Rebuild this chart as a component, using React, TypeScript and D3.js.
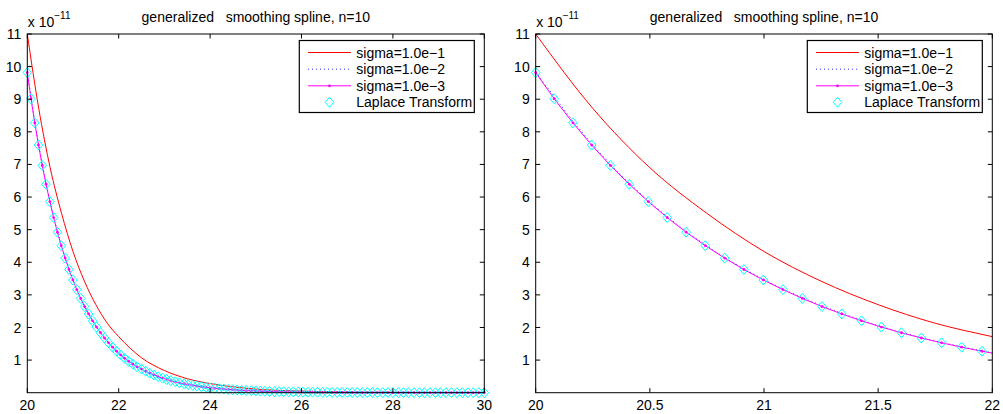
import React from 'react';
import * as d3 from 'd3';

// Laplace transform sample points (s) and values (x 1e-11)
const laplaceS = [
  20.000, 20.081, 20.163, 20.245, 20.327, 20.410, 20.493, 20.576, 20.659, 20.743,
  20.828, 20.912, 20.997, 21.083, 21.168, 21.254, 21.341, 21.427, 21.514, 21.602,
  21.689, 21.778, 21.866, 21.955, 22.044,
  22.13, 22.22, 22.31, 22.40, 22.50, 22.59, 22.68, 22.77, 22.86, 22.96,
  23.05, 23.14, 23.24, 23.33, 23.43, 23.52, 23.62, 23.71, 23.81, 23.91,
  24.00, 24.10, 24.20, 24.30, 24.40, 24.49, 24.59, 24.69, 24.79, 24.90,
  25.00, 25.10, 25.20, 25.30, 25.41, 25.51, 25.61, 25.72, 25.82, 25.93,
  26.03, 26.14, 26.24, 26.35, 26.46, 26.56, 26.67, 26.78, 26.89, 27.00,
  27.11, 27.22, 27.33, 27.44, 27.55, 27.66, 27.78, 27.89, 28.00, 28.12,
  28.23, 28.34, 28.46, 28.58, 28.69, 28.81, 28.93, 29.04, 29.16, 29.28,
  29.40, 29.52, 29.64, 29.76, 29.88, 30.00,
];
const laplaceF = [
  9.815, 9.014, 8.276, 7.595, 6.969, 6.392, 5.861, 5.371, 4.922, 4.508,
  4.128, 3.778, 3.457, 3.162, 2.891, 2.642, 2.415, 2.205, 2.014, 1.838,
  1.677, 1.530, 1.395, 1.271, 1.158, 1.055, 0.961, 0.874, 0.795, 0.723,
  0.658, 0.598, 0.543, 0.493, 0.447, 0.406, 0.368, 0.334, 0.303, 0.274,
  0.248, 0.225, 0.204, 0.184, 0.167, 0.151, 0.136, 0.123, 0.111, 0.100,
  0.090, 0.081, 0.073, 0.066, 0.060, 0.054, 0.048, 0.043, 0.039, 0.035,
  0.032, 0.028, 0.025, 0.023, 0.020, 0.018, 0.016, 0.015, 0.013, 0.012,
  0.011, 0.009, 0.008, 0.008, 0.007, 0.006, 0.005, 0.005, 0.004, 0.004,
  0.003, 0.003, 0.003, 0.002, 0.002, 0.002, 0.002, 0.001, 0.001, 0.001,
  0.001, 0.001, 0.001, 0.001, 0.001, 0.000, 0.000, 0.000, 0.000, 0.000, 0.000,
];
// sigma=1.0e-3 coincides with the Laplace transform samples in the picture
const sigma3S = laplaceS;
const sigma3F = laplaceF;

// coarse grid for the smoother curves
const coarseS = [20, 20.25, 20.5, 20.75, 21, 21.25, 21.5, 21.75, 22, 22.5, 23, 23.5, 24, 24.5, 25, 26, 27, 28, 29, 30];
const sigma1F = [11.0, 8.72, 6.90, 5.50, 4.33, 3.42, 2.70, 2.13, 1.72, 1.07, 0.68, 0.43, 0.28, 0.18, 0.11, 0.05, 0.02, 0.01, 0.005, 0.002];
const sigma2F = [9.84, 7.60, 5.85, 4.50, 3.47, 2.68, 2.06, 1.59, 1.225, 0.73, 0.433, 0.256, 0.152, 0.09, 0.054, 0.019, 0.007, 0.0024, 0.0009, 0.0003];

const leftXTicks = [20, 22, 24, 26, 28, 30];
const rightXTicks = [20, 20.5, 21, 21.5, 22];
const yTicks = [1, 2, 3, 4, 5, 6, 7, 8, 9, 10, 11];
const legendLabels = ['sigma=1.0e\u22121', 'sigma=1.0e\u22122', 'sigma=1.0e\u22123', 'Laplace Transform'];
const titleText = 'generalized   smoothing spline, n=10';

const FONT = '"Liberation Sans", Arial, Helvetica, sans-serif';
const Y0 = 34;
const Y1 = 392.7;
const DIAMOND = 'M0,-5L4.3,0L0,5L-4.3,0Z';

type PanelProps = { id: string; x0: number; x1: number; domain: [number, number]; ticks: number[] };

function Panel({ id, x0, x1, domain, ticks }: PanelProps) {
  const x = d3.scaleLinear().domain(domain).range([x0, x1]);
  const y = d3.scaleLinear().domain([0, 11]).range([Y1, Y0]);
  const line = d3.line<[number, number]>().x((d) => x(d[0])).y((d) => y(d[1]));
  const smooth = d3.line<[number, number]>().x((d) => x(d[0])).y((d) => y(d[1])).curve(d3.curveMonotoneX);
  const red = coarseS.map((s, i) => [s, sigma1F[i]] as [number, number]);
  const blue = coarseS.map((s, i) => [s, sigma2F[i]] as [number, number]);
  const mag = sigma3S.map((s, i) => [s, sigma3F[i]] as [number, number]);
  const lap = laplaceS.map((s, i) => [s, laplaceF[i]] as [number, number]).filter((d) => d[0] <= domain[1] + 1e-9);
  const magPts = mag.filter((d) => d[0] <= domain[1] + 1e-9);
  const tl = 4.5;
  const lx = x1 - 185;
  const ly = 40.5;
  const rows = [12, 28.7, 45.3, 61.8];
  const fmt = (v: number) => String(v);
  return (
    <g>
      <defs>
        <clipPath id={id}>
          <rect x={x0} y={Y0} width={x1 - x0} height={Y1 - Y0} />
        </clipPath>
      </defs>
      <rect x={x0} y={Y0} width={x1 - x0} height={Y1 - Y0} fill="#fff" />
      <g clipPath={`url(#${id})`}>
        <path d={smooth(red) || ''} fill="none" stroke="#ff0000" strokeWidth={1} />
        <path d={smooth(blue) || ''} fill="none" stroke="#3030ff" strokeWidth={1} strokeDasharray="1,3" />
        <path d={line(mag) || ''} fill="none" stroke="#ff00ff" strokeWidth={1} />
      </g>
      {magPts.map((d, i) => (
        <circle key={'m' + i} cx={x(d[0])} cy={y(d[1])} r={1.4} fill="#ff00ff" />
      ))}
      {lap.map((d, i) => (
        <path key={'l' + i} d={DIAMOND} transform={`translate(${x(d[0])},${y(d[1])})`} fill="none" stroke="#00ffff" strokeWidth={1} />
      ))}
      {/* axes box */}
      <rect x={x0} y={Y0} width={x1 - x0} height={Y1 - Y0} fill="none" stroke="#000" strokeWidth={1} />
      {ticks.map((t) => (
        <g key={'xt' + t}>
          <line x1={x(t)} x2={x(t)} y1={Y1} y2={Y1 - tl} stroke="#000" />
          <line x1={x(t)} x2={x(t)} y1={Y0} y2={Y0 + tl} stroke="#000" />
          <text x={x(t)} y={409.5} textAnchor="middle" fontSize={14} fontFamily={FONT} fill="#000">
            {fmt(t)}
          </text>
        </g>
      ))}
      {yTicks.map((t) => (
        <g key={'yt' + t}>
          <line x1={x0} x2={x0 + tl} y1={y(t)} y2={y(t)} stroke="#000" />
          <line x1={x1} x2={x1 - tl} y1={y(t)} y2={y(t)} stroke="#000" />
          <text x={x0 - 6} y={y(t)} dy="0.36em" textAnchor="end" fontSize={14} fontFamily={FONT} fill="#000">
            {t}
          </text>
        </g>
      ))}
      {/* exponent label */}
      <text x={x0 + 0.5} y={27} fontSize={14} fontFamily={FONT} fill="#000">
        x 10
        <tspan fontSize={10} dy={-8}>{'\u221211'}</tspan>
      </text>
      {/* title */}
      <text x={(x0 + x1) / 2} y={22} textAnchor="middle" fontSize={14} fontFamily={FONT} fill="#000" style={{ whiteSpace: 'pre' }}>
        {titleText}
      </text>
      {/* legend */}
      <rect x={lx} y={ly} width={175} height={72} fill="#fff" stroke="#000" strokeWidth={1.2} />
      <line x1={lx + 8.7} x2={lx + 51.7} y1={ly + rows[0]} y2={ly + rows[0]} stroke="#ff0000" />
      <line x1={lx + 8.7} x2={lx + 51.7} y1={ly + rows[1]} y2={ly + rows[1]} stroke="#3030ff" strokeDasharray="1,3" />
      <line x1={lx + 8.7} x2={lx + 51.7} y1={ly + rows[2]} y2={ly + rows[2]} stroke="#ff00ff" />
      <circle cx={lx + 30.2} cy={ly + rows[2]} r={1.4} fill="#ff00ff" />
      <path d={DIAMOND} transform={`translate(${lx + 30.2},${ly + rows[3]})`} fill="none" stroke="#00ffff" />
      {legendLabels.map((lab, i) => (
        <text key={lab} x={lx + 57} y={ly + rows[i]} dy="0.36em" fontSize={14} fontFamily={FONT} fill="#000">
          {lab}
        </text>
      ))}
    </g>
  );
}

export default function App() {
  return (
    <svg width={1003} height={414} style={{ position: 'absolute', left: 0, top: 0, background: '#fff' }}>
      <rect x={0} y={0} width={1003} height={414} fill="#fff" />
      <Panel id="clipL" x0={27.3} x1={484.3} domain={[20, 30]} ticks={leftXTicks} />
      <Panel id="clipR" x0={535.7} x1={992.3} domain={[20, 22]} ticks={rightXTicks} />
    </svg>
  );
}
